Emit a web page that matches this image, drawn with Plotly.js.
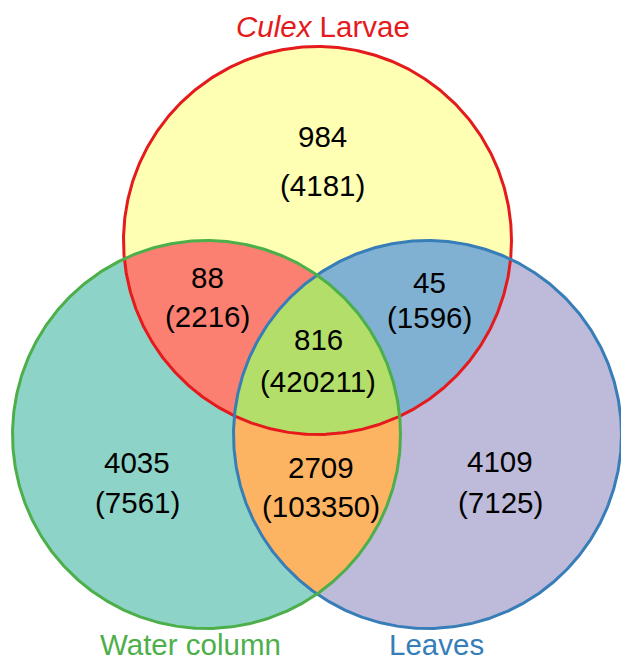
<!DOCTYPE html>
<html>
<head>
<meta charset="utf-8">
<script src="https://cdn.plot.ly/plotly-3.0.1.min.js"></script>
<style>html,body{margin:0;padding:0;background:#fff;}#chart{width:621px;height:663px;}</style>
</head>
<body>
<div id="chart"></div>
<script>
// ---- data ----
const setNames = ['<i>Culex</i> Larvae', 'Water column', 'Leaves'];
const regionNames = ['Larvae only', 'Larvae & Water', 'Larvae & Leaves', 'All three', 'Water only', 'Water & Leaves', 'Leaves only'];
const otuCounts = [984, 88, 45, 816, 4035, 2709, 4109];
const readCounts = [4181, 2216, 1596, 420211, 7561, 103350, 7125];

// ---- layout / style ----
const W = 621, H = 663;
const R = 194;
const circles = [
  {cx: 317.5, cy: 240.5, fill: '#FFFFB3', line: '#E41A1C'},
  {cx: 206.5, cy: 434.5, fill: '#8DD3C7', line: '#4DAF4A'},
  {cx: 427.5, cy: 434.5, fill: '#BEBADA', line: '#377EB8'}
];
const lensDefs = [
  {a: 0, b: 1, fill: '#FB8072'},
  {a: 0, b: 2, fill: '#80B1D3'},
  {a: 1, b: 2, fill: '#FDB462'}
];
const tripleFill = '#B3DE69';
// label positions (centre of region text) for each region in regionNames order
const labelPos = [
  [322, 136.5, 185], [207, 277.5, 316], [429, 282.5, 317], [318, 339, 381],
  [137, 462.5, 502], [321, 467.5, 506], [500, 461, 502]
];
const setLabelPos = [[322.5, 26.5, 'middle'], [190, 662, 'bottom'], [436.5, 662, 'bottom']];

function circlePoly(c, n) {
  const pts = [];
  for (let i = 0; i < n; i++) {
    const t = 2 * Math.PI * i / n;
    pts.push([c.cx + R * Math.cos(t), c.cy + R * Math.sin(t)]);
  }
  return pts;
}
// Sutherland-Hodgman clip of subject polygon by convex clip polygon
function clip(subject, clipPoly) {
  let area = 0;
  for (let i = 0; i < clipPoly.length; i++) {
    const p = clipPoly[i], q = clipPoly[(i + 1) % clipPoly.length];
    area += p[0] * q[1] - q[0] * p[1];
  }
  const sgn = area > 0 ? 1 : -1;
  let out = subject;
  for (let i = 0; i < clipPoly.length; i++) {
    const A = clipPoly[i], B = clipPoly[(i + 1) % clipPoly.length];
    const inside = p => sgn * ((B[0] - A[0]) * (p[1] - A[1]) - (B[1] - A[1]) * (p[0] - A[0])) >= 0;
    const inter = (P, Q) => {
      const a1 = B[1] - A[1], b1 = A[0] - B[0], c1 = a1 * A[0] + b1 * A[1];
      const a2 = Q[1] - P[1], b2 = P[0] - Q[0], c2 = a2 * P[0] + b2 * P[1];
      const d = a1 * b2 - a2 * b1;
      return [(b2 * c1 - b1 * c2) / d, (a1 * c2 - a2 * c1) / d];
    };
    const input = out; out = [];
    if (!input.length) break;
    for (let j = 0; j < input.length; j++) {
      const P = input[j], Q = input[(j + 1) % input.length];
      const pin = inside(P), qin = inside(Q);
      if (pin) {
        out.push(P);
        if (!qin) out.push(inter(P, Q));
      } else if (qin) {
        out.push(inter(P, Q));
      }
    }
  }
  return out;
}
function closed(pts) { return {x: pts.map(p => p[0]).concat([pts[0][0]]), y: pts.map(p => p[1]).concat([pts[0][1]])}; }

const polys = circles.map(c => circlePoly(c, 720));
const traces = [];
function fillTrace(pts, color) {
  const c = closed(pts);
  traces.push({type: 'scatter', mode: 'lines', x: c.x, y: c.y, fill: 'toself', fillcolor: color,
    line: {width: 0, color: color}, hoverinfo: 'skip', showlegend: false});
}
circles.forEach((c, i) => fillTrace(polys[i], c.fill));
lensDefs.forEach(l => fillTrace(clip(polys[l.a], polys[l.b]), l.fill));
fillTrace(clip(clip(polys[0], polys[1]), polys[2]), tripleFill);
[0, 2, 1].forEach(i => {
  const c = closed(polys[i]);
  traces.push({type: 'scatter', mode: 'lines', x: c.x, y: c.y, line: {width: 3, color: circles[i].line},
    hoverinfo: 'skip', showlegend: false});
});

const numFont = {family: 'Liberation Sans, Arial, sans-serif', size: 29.5, color: '#000'};
const annotations = [];
regionNames.forEach((name, i) => {
  const [x, y1, y2] = labelPos[i];
  annotations.push({x: x, y: y1, xref: 'x', yref: 'y', text: String(otuCounts[i]), showarrow: false,
    font: numFont, xanchor: 'center', yanchor: 'middle'});
  annotations.push({x: x, y: y2, xref: 'x', yref: 'y', text: '(' + readCounts[i] + ')', showarrow: false,
    font: numFont, xanchor: 'center', yanchor: 'middle'});
});
setNames.forEach((name, i) => {
  annotations.push({x: setLabelPos[i][0], y: setLabelPos[i][1], xref: 'x', yref: 'y', text: name, showarrow: false,
    font: {family: 'Liberation Sans, Arial, sans-serif', size: 29.5, color: circles[i].line},
    xanchor: 'center', yanchor: setLabelPos[i][2], borderpad: 0});
});

const axisBase = {showgrid: false, zeroline: false, showticklabels: false, showline: false, ticks: '', fixedrange: true};
const layout = {
  width: W, height: H,
  margin: {l: 0, r: 0, t: 0, b: 0, pad: 0},
  paper_bgcolor: '#fff', plot_bgcolor: '#fff',
  xaxis: Object.assign({range: [0, W]}, axisBase),
  yaxis: Object.assign({range: [H, 0]}, axisBase),
  showlegend: false, hovermode: false,
  annotations: annotations
};
Plotly.newPlot('chart', traces, layout, {displayModeBar: false, staticPlot: true});
</script>
</body>
</html>
